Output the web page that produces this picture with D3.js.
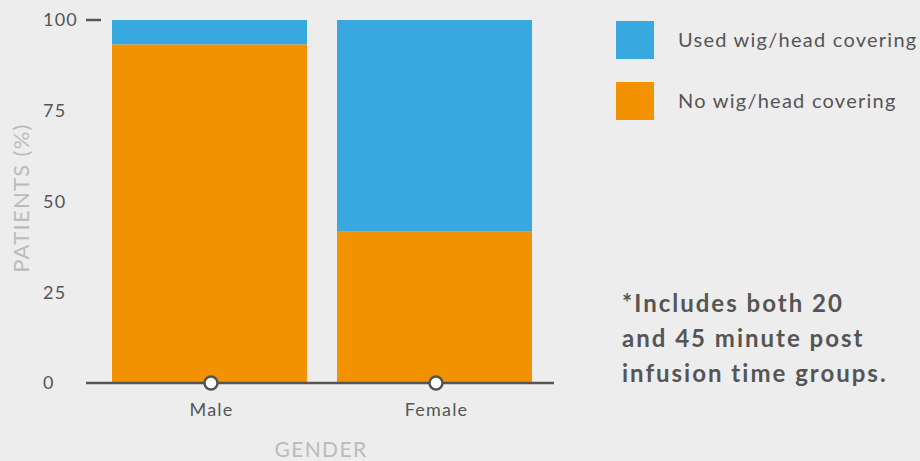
<!DOCTYPE html>
<html><head><meta charset="utf-8">
<script src="https://cdn.jsdelivr.net/npm/d3@7"></script>
<style>
html,body{margin:0;padding:0;background:#ededed;}
svg{display:block;font-family:Lato,"Open Sans",sans-serif;}
</style></head>
<body>
<svg id="chart" width="920" height="461"></svg>
<script>
const categories = ["Male", "Female"];
const seriesNames = ["No wig/head covering", "Used wig/head covering"];
const noWig = [93.3, 41.7];
const usedWig = [6.7, 58.3];
const yTicks = [0, 25, 50, 75, 100];
const colors = {"No wig/head covering": "#f29200", "Used wig/head covering": "#37a9e0"};
const footnote = ["*Includes both 20", "and 45 minute post", "infusion time groups."];

const rows = categories.map((c, i) => ({cat: c, "No wig/head covering": noWig[i], "Used wig/head covering": usedWig[i]}));
const stack = d3.stack().keys(seriesNames)(rows);

const svg = d3.select("#chart");
svg.append("rect").attr("width", 920).attr("height", 461).attr("fill", "#ededed");

const x = d3.scaleBand().domain(categories).range([112, 532]).paddingInner(30/225).paddingOuter(0);
const y = d3.scaleLinear().domain([0, 100]).range([383, 20]);

svg.append("g").selectAll("g").data(stack).join("g")
  .attr("fill", d => colors[d.key])
  .selectAll("rect").data(d => d).join("rect")
  .attr("x", d => x(d.data.cat))
  .attr("width", x.bandwidth())
  .attr("y", d => y(d[1]))
  .attr("height", d => y(d[0]) - y(d[1]));

// y tick labels
svg.append("g").selectAll("text").data(yTicks).join("text")
  .attr("x", 43).attr("y", d => y(d)).attr("dy", "0.35em")
  .attr("fill", "#555").attr("font-size", 18).attr("letter-spacing", 1.2).text(d => d);
// top tick mark
svg.append("line").attr("x1", 86).attr("x2", 101)
  .attr("y1", y(d3.max(yTicks))).attr("y2", y(d3.max(yTicks)))
  .attr("stroke", "#555").attr("stroke-width", 2.5);

// x axis baseline
svg.append("line").attr("x1", 86).attr("x2", 554).attr("y1", y(0)).attr("y2", y(0))
  .attr("stroke", "#555").attr("stroke-width", 2.5);
svg.append("g").selectAll("circle").data(categories).join("circle")
  .attr("cx", d => x(d) + x.bandwidth()/2 + 1.5).attr("cy", y(0)).attr("r", 6.5)
  .attr("fill", "#fff").attr("stroke", "#555").attr("stroke-width", 2.5);
svg.append("g").selectAll("text").data(categories).join("text")
  .attr("x", d => x(d) + x.bandwidth()/2 + 2).attr("y", 416)
  .attr("text-anchor", "middle").attr("fill", "#555").attr("font-size", 18).attr("letter-spacing", 1.2).text(d => d);

// axis titles
svg.append("text").attr("x", 321).attr("y", 457).attr("text-anchor", "middle")
  .attr("fill", "#bbb").attr("font-size", 21).attr("letter-spacing", 1.4).text("GENDER");
svg.append("text").attr("transform", "translate(29,198) rotate(-90)").attr("text-anchor", "middle")
  .attr("fill", "#bbb").attr("font-size", 22).attr("letter-spacing", 1.3).text("PATIENTS (%)");

// legend
const legendOrder = ["Used wig/head covering", "No wig/head covering"];
const lg = svg.append("g").selectAll("g").data(legendOrder).join("g")
  .attr("transform", (d, i) => `translate(616,${21 + i*61})`);
lg.append("rect").attr("width", 38).attr("height", 38).attr("fill", d => colors[d]);
lg.append("text").attr("x", 62).attr("y", 19).attr("dy", "0.35em")
  .attr("fill", "#555").attr("font-size", 20).attr("letter-spacing", 1.25).text(d => d);

// footnote
svg.append("g").selectAll("text").data(footnote).join("text")
  .attr("x", 622).attr("y", (d, i) => 312 + i*35)
  .attr("fill", "#555").attr("font-size", 24).attr("font-weight", "bold").attr("letter-spacing", 2).text(d => d);
</script>
</body></html>
